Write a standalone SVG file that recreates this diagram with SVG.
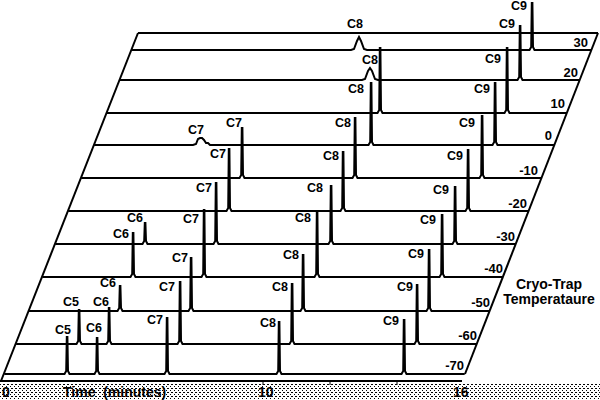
<svg xmlns="http://www.w3.org/2000/svg" width="600" height="400" viewBox="0 0 600 400">
<defs>
<pattern id="stip" width="4" height="4" patternUnits="userSpaceOnUse">
<rect x="0" y="0" width="1" height="1" fill="#000"/>
<rect x="2" y="2" width="1" height="1" fill="#000"/>
<rect x="3" y="0" width="1" height="1" fill="#000"/>
</pattern>
<style>
.tr{fill:none;stroke:#000;stroke-width:2;stroke-linejoin:miter}
.fr{fill:none;stroke:#000;stroke-width:2}
.pk{font-family:"Liberation Sans",Arial,sans-serif;font-weight:bold;font-size:12.5px;fill:#000}
.rl{font-family:"Liberation Sans",Arial,sans-serif;font-weight:bold;font-size:13px;fill:#000;text-anchor:end}
.ax{font-family:"Liberation Sans",Arial,sans-serif;font-weight:bold;font-size:14px;fill:#000}
</style>
</defs>
<rect width="600" height="400" fill="#fff"/>
<rect x="0" y="384" width="600" height="16" fill="url(#stip)"/>

<g id="frame">
<path class="fr" d="M138,33 H598"/>
<path class="fr" d="M138,33 L1,381"/>
<path class="fr" d="M598,33 L465,374"/>
<path class="fr" d="M0,381 H462"/>
<path d="M263,381 V385 M330,381 V385 M397,381 V385" stroke="#000" stroke-width="1"/>
</g>

<g id="connectors">
<path id="trace-30" class="tr" d="M131.3,50 H351 L354,49 L357,41 L359,37 L361,41 L364,49 L367,50 H529.5 L531.2,47 L531.8,3 L532.4,3 L533,47 L534.5,50 H591.4"/>
<path id="trace-20" class="tr" d="M119.6,80 H362 L365,79 L368,71 L370,68 L372,71 L375,79 L378,80 H517.5 L519.2,77 L519.8,26 L520.4,26 L521,77 L522.5,80 H579.6"/>
<path id="trace-10" class="tr" d="M106.6,113 H377.5 L379.2,110 L379.8,48 L380.4,48 L381,110 L382.5,113 H504.5 L506.2,110 L506.8,48 L507.4,48 L508,110 L509.5,113 H566.7"/>
<path id="trace-0" class="tr" d="M94.1,145 H193 L196,144 L198,139 L200,138 L202,138 L204,140 L206,143 L208,143 L210,145 H368.5 L370.2,142 L370.8,83 L371.4,83 L372,142 L373.5,145 H492.5 L494.2,142 L494.8,83 L495.4,83 L496,142 L497.5,145 H554.2"/>
<path id="trace-m10" class="tr" d="M81.2,178 H239.5 L241.2,175 L241.8,128 L242.4,128 L243,175 L244.5,178 H352.5 L354.2,175 L354.8,118 L355.4,118 L356,175 L357.5,178 H479.5 L481.2,175 L481.8,116 L482.4,116 L483,175 L484.5,178 H541.3"/>
<path id="trace-m20" class="tr" d="M68.2,211 H226.5 L228.2,208 L228.8,149 L229.4,149 L230,208 L231.5,211 H340.5 L342.2,208 L342.8,152 L343.4,152 L344,208 L345.5,211 H465.5 L467.2,208 L467.8,150 L468.4,150 L469,208 L470.5,211 H528.4"/>
<path id="trace-m30" class="tr" d="M55.3,244 H142.5 L144.2,241 L144.8,223 L145.4,223 L146,241 L147.5,244 H213.5 L215.2,241 L215.8,183 L216.4,183 L217,241 L218.5,244 H328.5 L330.2,241 L330.8,186 L331.4,186 L332,241 L333.5,244 H452.5 L454.2,241 L454.8,187 L455.4,187 L456,241 L457.5,244 H515.5"/>
<path id="trace-m40" class="tr" d="M42.4,277 H130.5 L132.2,274 L132.8,233 L133.4,233 L134,274 L135.5,277 H201.5 L203.2,274 L203.8,210 L204.4,210 L205,274 L206.5,277 H314.5 L316.2,274 L316.8,213 L317.4,213 L318,274 L319.5,277 H439.5 L441.2,274 L441.8,215 L442.4,215 L443,274 L444.5,277 H502.6"/>
<path id="trace-m50" class="tr" d="M29,311 H117.5 L119.2,308 L119.8,286 L120.4,286 L121,308 L122.5,311 H188.5 L190.2,308 L190.8,258 L191.4,258 L192,308 L193.5,311 H300.5 L302.2,308 L302.8,255 L303.4,255 L304,308 L305.5,311 H426.5 L428.2,308 L428.8,250 L429.4,250 L430,308 L431.5,311 H489.3"/>
<path id="trace-m60" class="tr" d="M16.1,344 H76.5 L78.2,341 L78.8,310 L79.4,310 L80,341 L81.5,344 H106.5 L108.2,341 L108.8,308 L109.4,308 L110,341 L111.5,344 H177.5 L179.2,341 L179.8,282 L180.4,282 L181,341 L182.5,344 H289.5 L291.2,341 L291.8,284 L292.4,284 L293,341 L294.5,344 H414.5 L416.2,341 L416.8,285 L417.4,285 L418,341 L419.5,344 H476.4"/>
<path id="trace-m70" class="tr" d="M4.3,374 H64.5 L66.2,371 L66.8,337 L67.4,337 L68,371 L69.5,374 H94.5 L96.2,371 L96.8,338 L97.4,338 L98,371 L99.5,374 H164.5 L166.2,371 L166.8,318 L167.4,318 L168,371 L169.5,374 H276.5 L278.2,371 L278.8,322 L279.4,322 L280,371 L281.5,374 H401.5 L403.2,371 L403.8,320 L404.4,320 L405,371 L406.5,374 H464.7"/>
</g>

<g id="peak-labels">
<text class="pk" x="347" y="28">C8</text>
<text class="pk" x="511" y="10">C9</text>
<text class="pk" x="499" y="28">C9</text>
<text class="pk" x="362" y="64">C8</text>
<text class="pk" x="485" y="63">C9</text>
<text class="pk" x="348" y="93">C8</text>
<text class="pk" x="474" y="93">C9</text>
<text class="pk" x="188" y="134">C7</text>
<text class="pk" x="226" y="127">C7</text>
<text class="pk" x="335" y="127">C8</text>
<text class="pk" x="459" y="127">C9</text>
<text class="pk" x="210" y="158">C7</text>
<text class="pk" x="323" y="160">C8</text>
<text class="pk" x="447" y="160">C9</text>
<text class="pk" x="196" y="192">C7</text>
<text class="pk" x="307" y="192">C8</text>
<text class="pk" x="433" y="194">C9</text>
<text class="pk" x="127" y="222">C6</text>
<text class="pk" x="183" y="223">C7</text>
<text class="pk" x="295" y="222">C8</text>
<text class="pk" x="420" y="224">C9</text>
<text class="pk" x="113" y="238">C6</text>
<text class="pk" x="172" y="262">C7</text>
<text class="pk" x="283" y="259">C8</text>
<text class="pk" x="408" y="258">C9</text>
<text class="pk" x="100" y="287">C6</text>
<text class="pk" x="63" y="306">C5</text>
<text class="pk" x="93" y="306">C6</text>
<text class="pk" x="159" y="291">C7</text>
<text class="pk" x="272" y="291">C8</text>
<text class="pk" x="397" y="291">C9</text>
<text class="pk" x="55" y="334">C5</text>
<text class="pk" x="86" y="332">C6</text>
<text class="pk" x="147" y="324">C7</text>
<text class="pk" x="260" y="327">C8</text>
<text class="pk" x="383" y="325">C9</text>
</g>

<g id="row-labels">
<text class="rl" x="588" y="47">30</text>
<text class="rl" x="578" y="77">20</text>
<text class="rl" x="565" y="108">10</text>
<text class="rl" x="552" y="140">0</text>
<text class="rl" x="538" y="175">-10</text>
<text class="rl" x="527" y="208">-20</text>
<text class="rl" x="515" y="241">-30</text>
<text class="rl" x="503" y="273">-40</text>
<text class="rl" x="490" y="307">-50</text>
<text class="rl" x="477" y="340">-60</text>
<text class="rl" x="464" y="370">-70</text>
</g>

<g id="legend">
<text class="ax" x="549" y="289" text-anchor="middle">Cryo-Trap</text>
<text class="ax" x="549" y="304" text-anchor="middle">Temperataure</text>
</g>

<g id="axis-labels">
<text class="ax" x="2" y="397">0</text>
<text class="ax" x="63" y="397" xml:space="preserve">Time  (minutes)</text>
<text class="ax" x="258" y="397">10</text>
<text class="ax" x="453" y="397">16</text>
</g>
</svg>
